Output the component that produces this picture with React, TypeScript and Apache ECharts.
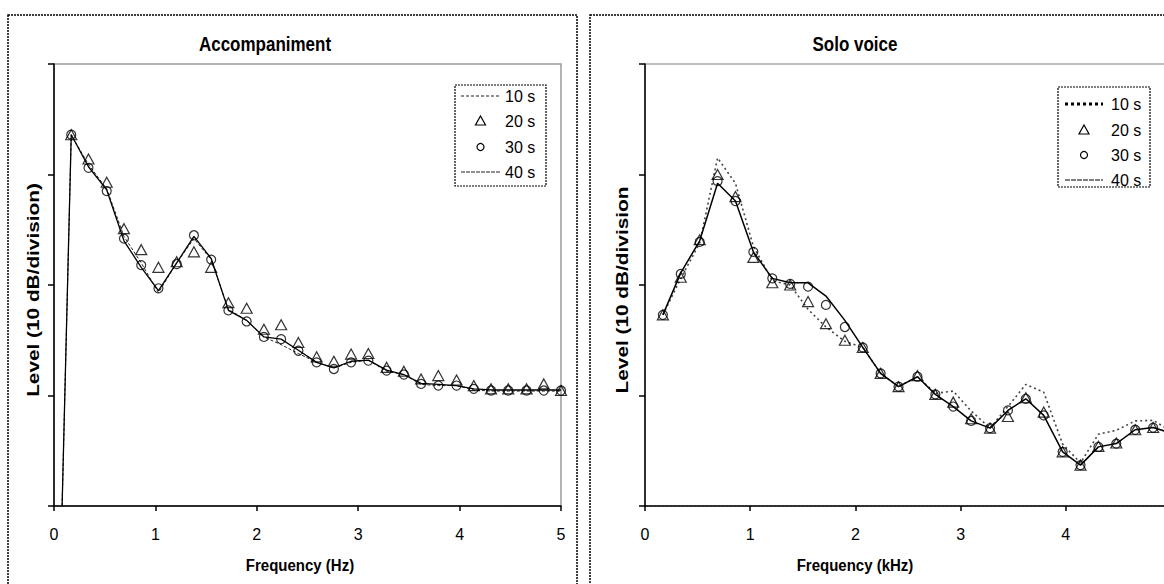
import React, { useEffect, useRef } from "react";
import * as echarts from "echarts";

// Frequencies of the analysed bands (Hz for the left chart, kHz for the right)
const freqs = [
  0.17, 0.34, 0.52, 0.69, 0.86, 1.03, 1.21, 1.38, 1.55, 1.72, 1.9, 2.07, 2.24, 2.41, 2.59,
  2.76, 2.93, 3.1, 3.28, 3.45, 3.62, 3.79, 3.97, 4.14, 4.31, 4.48, 4.66, 4.83, 5.0,
];
// Onset of the accompaniment lines (rising from the floor)
const accOnset = [0.08, 0];

// Accompaniment levels (dB above floor)
const acc10 = [33.6, 30.9, 28.7, 24.4, 22.0, 19.3, 22.0, 24.2, 22.3, 17.8, 16.8, 15.3, 14.6, 13.8, 13.0, 12.5, 13.0, 13.2, 12.2, 11.9, 11.0, 10.9, 10.9, 10.5, 10.4, 10.4, 10.4, 10.4, 10.4];
const acc20 = [33.6, 31.4, 29.3, 25.1, 23.2, 21.6, 22.1, 23.0, 21.6, 18.4, 17.9, 16.0, 16.4, 14.8, 13.5, 13.1, 13.75, 13.8, 12.55, 12.2, 11.5, 11.8, 11.4, 10.9, 10.6, 10.6, 10.6, 11.05, 10.45];
const acc30 = [33.6, 30.6, 28.5, 24.2, 21.8, 19.7, 21.9, 24.5, 22.3, 17.7, 16.7, 15.3, 15.1, 14.05, 13.0, 12.4, 13.0, 13.15, 12.25, 11.9, 11.05, 10.9, 10.9, 10.6, 10.45, 10.45, 10.45, 10.45, 10.45];
const acc40 = [33.6, 30.7, 28.6, 24.0, 21.6, 19.5, 22.0, 24.4, 22.4, 17.7, 16.8, 15.3, 15.1, 14.1, 13.0, 12.5, 13.1, 13.2, 12.3, 11.9, 11.1, 11.0, 10.9, 10.6, 10.5, 10.5, 10.5, 10.5, 10.5];

// Solo voice levels
const solo10 = [17.3, 20.6, 23.8, 31.5, 29.2, 23.5, 20.4, 20.0, 17.8, 16.2, 14.9, 14.35, 12.0, 10.8, 11.7, 10.2, 10.4, 8.6, 7.05, 9.0, 11.0, 10.3, 5.6, 3.9, 6.5, 6.85, 7.7, 7.75, 6.8];
const solo20 = [17.3, 20.7, 24.1, 30.0, 28.0, 22.5, 20.2, 20.0, 18.5, 16.5, 15.0, 14.35, 12.0, 10.8, 11.8, 10.1, 9.4, 7.9, 7.05, 8.1, 9.8, 8.5, 4.9, 3.7, 5.4, 5.7, 6.9, 7.1, 6.6];
const solo30 = [17.3, 21.0, 23.9, 29.4, 27.6, 23.0, 20.6, 20.1, 19.85, 18.2, 16.2, 14.35, 12.0, 10.8, 11.7, 10.1, 9.0, 7.7, 7.05, 8.65, 9.7, 8.2, 4.9, 3.7, 5.35, 5.65, 6.9, 7.1, 6.6];
const solo40 = [17.3, 21.1, 24.0, 29.2, 27.6, 23.0, 20.6, 20.2, 20.2, 19.0, 16.8, 14.35, 12.0, 10.8, 11.7, 10.1, 9.0, 7.7, 7.05, 8.65, 9.7, 8.2, 4.9, 3.7, 5.35, 5.65, 6.9, 7.1, 6.6];

const xTicksMax = 5;
const levelMax = 40;
const levelStep = 10;
const seriesNames = ["10 s", "20 s", "30 s", "40 s"];

const FONT = '"Liberation Sans", Arial, Helvetica, sans-serif';

const pairs = (vals: number[]) => freqs.map((f, i) => [f, vals[i]]);

function makeX(gridIndex: number, dotted: boolean) {
  return {
    gridIndex,
    type: "value",
    min: 0,
    max: xTicksMax,
    interval: 1,
    axisLine: { show: true, onZero: false, lineStyle: { color: "#000", width: 1.5, type: dotted ? [3, 1] : "solid" } },
    axisTick: { show: true, length: 5, lineStyle: { color: "#000", width: 1.5 } },
    axisLabel: { color: "#000", fontSize: 16, fontFamily: FONT, margin: 20, showMaxLabel: !dotted },
    splitLine: { show: false },
  };
}
function makeY(gridIndex: number) {
  return {
    gridIndex,
    type: "value",
    min: 0,
    max: levelMax,
    interval: levelStep,
    axisLine: { show: true, onZero: false, lineStyle: { color: "#000", width: 1.5 } },
    axisTick: { show: true, length: 6, lineStyle: { color: "#000", width: 1.5 } },
    axisLabel: { show: false },
    splitLine: { show: false },
  };
}

function textEl(x: number, y: number, text: string, font: string, extra: any = {}) {
  return {
    type: "text",
    x,
    y,
    z: 50,
    ...extra,
    style: { text, font, fill: "#000", align: "center", verticalAlign: "middle" },
  };
}

function legendEls(
  bx: number, by: number, bw: number, bh: number,
  rows: number[], sx1: number, sx2: number, tx: number,
  dottedStyle: any, solidStyle: any
) {
  const mx = (sx1 + sx2) / 2;
  const els: any[] = [
    { type: "rect", z: 60, shape: { x: bx, y: by, width: bw, height: bh }, style: { fill: "#fff", stroke: "#000", lineWidth: 1.2, lineDash: [2, 1] } },
    { type: "line", z: 61, shape: { x1: sx1, y1: rows[0], x2: sx2, y2: rows[0] }, style: dottedStyle },
    { type: "polygon", z: 61, shape: { points: [[mx, rows[1] - 5], [mx + 5, rows[1] + 4], [mx - 5, rows[1] + 4]] }, style: { fill: "none", stroke: "#000", lineWidth: 1.2 } },
    { type: "circle", z: 61, shape: { cx: mx, cy: rows[2], r: 3.5 }, style: { fill: "none", stroke: "#000", lineWidth: 1.2 } },
    { type: "line", z: 61, shape: { x1: sx1, y1: rows[3], x2: sx2, y2: rows[3] }, style: solidStyle },
  ];
  seriesNames.forEach((n, i) => {
    els.push({
      type: "text", z: 62, x: tx, y: rows[i],
      style: { text: n, font: `16px ${FONT}`, fill: "#000", align: "left", verticalAlign: "middle" },
    });
  });
  return els;
}

export default function App() {
  const ref = useRef<HTMLDivElement>(null);
  useEffect(() => {
    if (!ref.current) return;
    const chart = echarts.init(ref.current, undefined, { renderer: "svg" });
    const markerStyle = { color: "rgba(0,0,0,0)", borderColor: "#000", borderWidth: 1.2 };
    const option: any = {
      animation: false,
      backgroundColor: "#fff",
      textStyle: { fontFamily: FONT },
      grid: [
        { left: 54, top: 64, width: 507, height: 442, show: true, borderColor: "#9a9a9a", borderWidth: 1.5 },
        { left: 645, top: 64, width: 526, height: 442, show: true, borderColor: "#aaaaaa", borderWidth: 1.5 },
      ],
      xAxis: [makeX(0, false), makeX(1, true)],
      yAxis: [makeY(0), makeY(1)],
      series: [
        { name: "10 s", type: "line", xAxisIndex: 0, yAxisIndex: 0, showSymbol: false, data: [accOnset, ...pairs(acc10)], lineStyle: { color: "#222", width: 1, type: [3, 2] }, z: 3 },
        { name: "40 s", type: "line", xAxisIndex: 0, yAxisIndex: 0, showSymbol: false, data: [accOnset, ...pairs(acc40)], lineStyle: { color: "#000", width: 1.3 }, z: 3 },
        { name: "20 s", type: "scatter", xAxisIndex: 0, yAxisIndex: 0, symbol: "triangle", symbolSize: [11, 10], data: pairs(acc20), itemStyle: markerStyle, z: 4 },
        { name: "30 s", type: "scatter", xAxisIndex: 0, yAxisIndex: 0, symbol: "circle", symbolSize: 9, data: pairs(acc30), itemStyle: markerStyle, z: 4 },

        { name: "10 s", type: "line", xAxisIndex: 1, yAxisIndex: 1, showSymbol: false, data: pairs(solo10), lineStyle: { color: "#444", width: 1.6, type: [2, 3] }, z: 3 },
        { name: "40 s", type: "line", xAxisIndex: 1, yAxisIndex: 1, showSymbol: false, data: pairs(solo40), lineStyle: { color: "#000", width: 1.5 }, z: 3 },
        { name: "20 s", type: "scatter", xAxisIndex: 1, yAxisIndex: 1, symbol: "triangle", symbolSize: [11, 10], data: pairs(solo20), itemStyle: markerStyle, z: 4 },
        { name: "30 s", type: "scatter", xAxisIndex: 1, yAxisIndex: 1, symbol: "circle", symbolSize: 9, data: pairs(solo30), itemStyle: markerStyle, z: 4 },
      ],
      graphic: [
        { type: "rect", z: 1, shape: { x: 8, y: 15, width: 569, height: 620 }, style: { fill: "none", stroke: "#000", lineWidth: 1.5, lineDash: [2, 1] } },
        { type: "rect", z: 1, shape: { x: 590, y: 15, width: 600, height: 620 }, style: { fill: "none", stroke: "#000", lineWidth: 1.5, lineDash: [2, 1] } },
        textEl(265, 44, "Accompaniment", `bold 17px ${FONT}`, { scaleY: 1.15 }),
        textEl(855, 44, "Solo voice", `bold 17px ${FONT}`, { scaleY: 1.15 }),
        textEl(300, 565, "Frequency (Hz)", `bold 15px ${FONT}`, { scaleY: 1.15 }),
        textEl(855, 565, "Frequency (kHz)", `bold 15px ${FONT}`, { scaleY: 1.15 }),
        textEl(33, 290, "Level (10 dB/division)", `bold 16px ${FONT}`, { rotation: Math.PI / 2, scaleX: 1.3 }),
        textEl(622, 290, "Level (10 dB/division", `bold 16px ${FONT}`, { rotation: Math.PI / 2, scaleX: 1.3 }),
        ...legendEls(455, 85, 91, 101, [96, 121, 147, 172], 461, 500, 505,
          { stroke: "#222", lineWidth: 1, lineDash: [3, 2] },
          { stroke: "#222", lineWidth: 1, lineDash: [4, 1] }),
        ...legendEls(1058, 87, 92, 100, [104, 130, 155, 180], 1065, 1103, 1111,
          { stroke: "#000", lineWidth: 3, lineDash: [3, 3] },
          { stroke: "#000", lineWidth: 1, lineDash: [5, 1] }),
      ],
    };
    chart.setOption(option);
    return () => chart.dispose();
  }, []);
  return (
    <div style={{ position: "fixed", left: 0, top: 0, width: 1164, height: 584, overflow: "hidden", background: "#fff" }}>
      <div ref={ref} style={{ width: 1200, height: 600 }} />
    </div>
  );
}
